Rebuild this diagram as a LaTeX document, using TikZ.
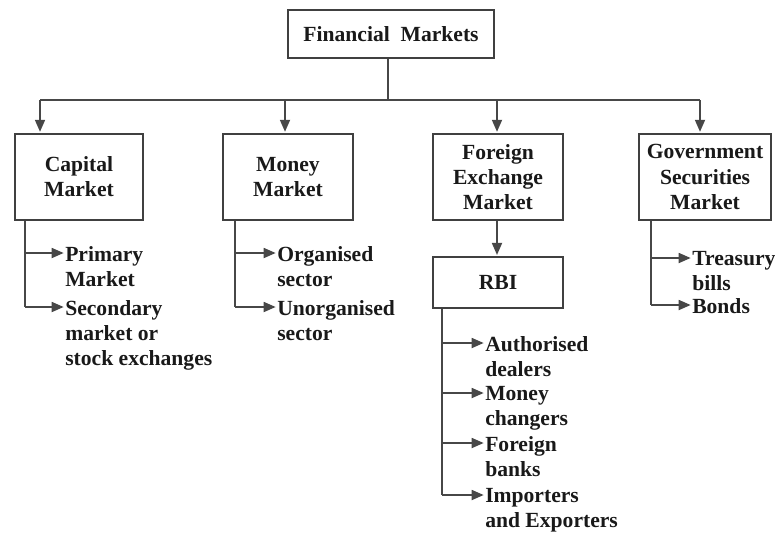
\documentclass[tikz,border=0pt]{standalone}
\usepackage{fontspec}
\setmainfont{Liberation Serif}
\usetikzlibrary{arrows.meta}
\begin{document}
\begin{tikzpicture}[x=0.75pt,y=-0.75pt,
  every node/.style={font=\fontsize{16.2}{18.8}\selectfont\bfseries, text=black!90},
  box/.style={draw=black!75, line width=1.3pt, align=center, inner sep=0pt,
    minimum width=#1, minimum height=64.5pt},
  item/.style={anchor=north west, align=left, inner sep=0pt},
  link/.style={draw=black!72, line width=1.3pt},
  arr/.style={link, -{Triangle[length=9pt,width=7.5pt]}, shorten >=1pt}]
\useasboundingbox (0,0) rectangle (775,533);

% root and first level boxes
\node[box=154.5pt, minimum height=36pt] (fm) at (391,34) {Financial\ \ Markets};
\node[box=96pt]   (cap) at (79,177)  {Capital\\Market};
\node[box=97.5pt] (mon) at (288,177) {Money\\Market};
\node[box=97.5pt] (fx)  at (498,177) {Foreign\\Exchange\\Market};
\node[box=99pt]   (gov) at (705,177) {Government\\Securities\\Market};
\node[box=97.5pt, minimum height=38pt] (rbi) at (498,282.5) {RBI};

% distribution bus
\coordinate (b1) at (40,100);
\coordinate (b2) at (285,100);
\coordinate (b3) at (497,100);
\coordinate (b4) at (700,100);
\draw[link] (fm.south -| 388,0) -- (388,100);
\draw[link] (b1) -- (b4);
\draw[arr] (b1) -- (b1 |- cap.north);
\draw[arr] (b2) -- (b2 |- mon.north);
\draw[arr] (b3) -- (b3 |- fx.north);
\draw[arr] (b4) -- (b4 |- gov.north);
\draw[arr] (fx.south -| b3) -- (b3 |- rbi.north);

% capital market
\coordinate (c1) at (25,253);
\coordinate (c2) at (25,307);
\node[item] (cp) at (65,246) {Primary\\Market};
\node[item] (cs) at (65,300) {Secondary\\market or\\stock exchanges};
\draw[link] (c1 |- cap.south) -- (c2);
\draw[arr] (c1) -- (c1 -| cp.west);
\draw[arr] (c2) -- (c2 -| cs.west);

% money market
\coordinate (m1) at (235,253);
\coordinate (m2) at (235,307);
\node[item] (mo) at (277,246) {Organised\\sector};
\node[item] (mu) at (277,300) {Unorganised\\sector};
\draw[link] (m1 |- mon.south) -- (m2);
\draw[arr] (m1) -- (m1 -| mo.west);
\draw[arr] (m2) -- (m2 -| mu.west);

% government securities
\coordinate (g1) at (651,258);
\coordinate (g2) at (651,305);
\node[item] (gt) at (692,251) {Treasury\\bills};
\node[item] (gb) at (692,298) {Bonds};
\draw[link] (g1 |- gov.south) -- (g2);
\draw[arr] (g1) -- (g1 -| gt.west);
\draw[arr] (g2) -- (g2 -| gb.west);

% RBI
\coordinate (r1) at (442,343);
\coordinate (r2) at (442,393);
\coordinate (r3) at (442,443);
\coordinate (r4) at (442,495);
\node[item] (ra) at (485,336) {Authorised\\dealers};
\node[item] (rm) at (485,386) {Money\\changers};
\node[item] (rf) at (485,436) {Foreign\\banks};
\node[item] (ri) at (485,488) {Importers\\and Exporters};
\draw[link] (r1 |- rbi.south) -- (r4);
\draw[arr] (r1) -- (r1 -| ra.west);
\draw[arr] (r2) -- (r2 -| rm.west);
\draw[arr] (r3) -- (r3 -| rf.west);
\draw[arr] (r4) -- (r4 -| ri.west);
\end{tikzpicture}
\end{document}
